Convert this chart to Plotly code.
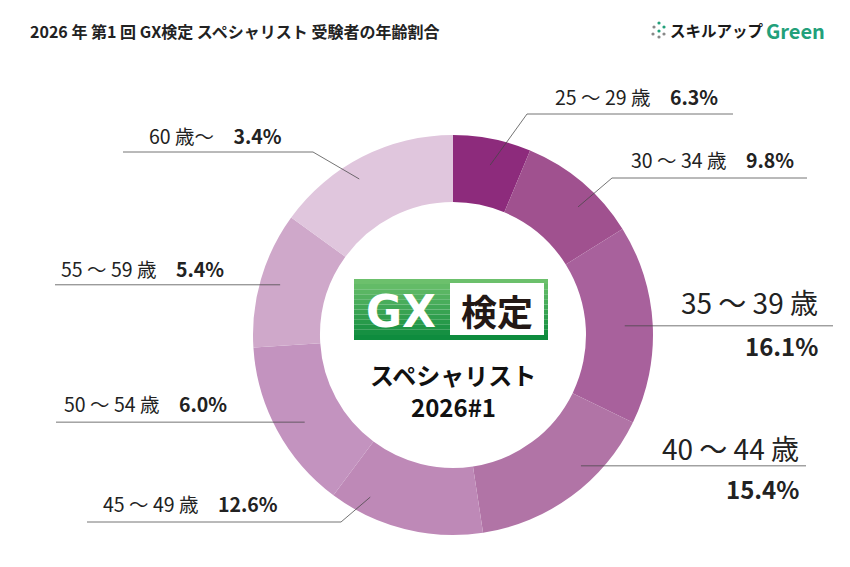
import math
import plotly.graph_objects as go

# data
age_groups = ["25～29歳", "30～34歳", "35～39歳", "40～44歳",
              "45～49歳", "50～54歳", "55～59歳", "60歳～"]
label_text = ["25 〜 29 歳", "30 〜 34 歳", "35 〜 39 歳", "40 〜 44 歳",
              "45 〜 49 歳", "50 〜 54 歳", "55 〜 59 歳", "60 歳〜"]
printed_pct = [6.3, 9.8, 16.1, 15.4, 12.6, 6.0, 5.4, 3.4]
# slice sizes as drawn in the ring (the last three are drawn larger than printed)
slice_share = [6.3, 9.8, 16.1, 15.4, 12.6, 13.8, 11.0, 15.0]
slice_colors = ["#8D2B7C", "#A0518F", "#A8619C", "#B174A6",
                "#BE89B7", "#C393BF", "#CFA8CA", "#E0C6DD"]

W, H = 850, 567
CX, CY, R = 453, 335, 200
FONT = "Noto Sans CJK JP"


def px(x, y):
    return x / W, 1 - y / H


fig = go.Figure()
x0, y1 = px(CX - R, CY - R)
x1, y0 = px(CX + R, CY + R)
fig.add_trace(go.Pie(
    labels=age_groups, values=slice_share, sort=False, direction="clockwise",
    rotation=0, hole=0.665, marker=dict(colors=slice_colors, line=dict(width=0)),
    textinfo="none", hoverinfo="label+value", domain=dict(x=[x0, x1], y=[y0, y1]),
))

shapes = []
annotations = []


def line(xa, ya, xb, yb, color="rgba(70,70,70,0.75)"):
    a, b = px(xa, ya)
    c, d = px(xb, yb)
    shapes.append(dict(type="line", xref="paper", yref="paper", x0=a, y0=b, x1=c, y1=d,
                       line=dict(color=color, width=1)))


def text(x, y, s, size, anchor="center", color="#222", family=FONT):
    a, b = px(x, y)
    annotations.append(dict(x=a, y=b, xref="paper", yref="paper", text=s, showarrow=False,
                            xanchor=anchor, yanchor="middle",
                            font=dict(family=family, size=size, color=color)))


# leader layout per slice: angle tweak, radius, elbow, line end, text placement
leaders = [
    dict(dt=1, r=174, elbow=(527, 114), end=733, tx=(636, 97)),
    dict(dt=4, r=179, elbow=(612, 178), end=807, tx=(712, 159)),
    dict(dt=0, r=172, elbow=None, end=833, big=(820, 302, 345)),
    dict(dt=-8, r=183, elbow=None, end=806, big=(801, 448, 488)),
    dict(dt=13, r=182, elbow=(341, 522), end=87, tx=(190, 503)),
    dict(dt=-2, r=172, elbow=None, end=56, tx=(145, 403)),
    dict(dt=0, r=180, elbow=None, end=55, tx=(142, 268)),
    dict(dt=-4, r=182, elbow=(313, 152), end=123, tx=(215, 135)),
]

total = sum(slice_share)
cum = 0
for i, v in enumerate(slice_share):
    mid = (cum + v / 2) / total * 360
    cum += v
    L = leaders[i]
    th = math.radians(mid + L["dt"])
    sx = CX + L["r"] * math.sin(th)
    sy = CY - L["r"] * math.cos(th)
    if L["elbow"]:
        ex, ey = L["elbow"]
        line(sx, sy, ex, ey)
        line(ex, ey, L["end"], ey)
    else:
        line(sx, sy, L["end"], sy)
    if "big" in L:
        bx, ty, py = L["big"]
        text(bx, ty, label_text[i], 28, "right")
        text(bx, py, f"<b>{printed_pct[i]:.1f}%</b>", 24, "right")
    else:
        tx, ty = L["tx"]
        text(tx, ty, f"{label_text[i]}　<b>{printed_pct[i]:.1f}%</b>", 19.5)

# center badge: GX検定
steps = 12
gx0, gy0, gx1, gy1 = 354, 279, 548, 340
top_c, bot_c = (108, 192, 108), (14, 140, 62)
for k in range(steps):
    t = k / (steps - 1)
    c = tuple(int(top_c[j] + (bot_c[j] - top_c[j]) * t) for j in range(3))
    ya = gy0 + (gy1 - gy0) * k / steps
    yb = gy0 + (gy1 - gy0) * (k + 1) / steps
    a, b = px(gx0, ya)
    cc, d = px(gx1, yb)
    shapes.append(dict(type="rect", xref="paper", yref="paper", x0=a, y0=d, x1=cc, y1=b,
                       line=dict(width=0), fillcolor="rgb(%d,%d,%d)" % c, layer="above"))
a, b = px(450, 283)
cc, d = px(544, 335)
shapes.append(dict(type="rect", xref="paper", yref="paper", x0=a, y0=d, x1=cc, y1=b,
                   line=dict(width=0), fillcolor="white", layer="above"))
text(401, 311, "<b>GX</b>", 44, color="white", family="DejaVu Sans")
text(497, 310, "<b>検定</b>", 36, color="#231815")
text(CX, 374, "<b>スペシャリスト</b>", 24, color="#111")
text(CX, 406, "<b>2026#1</b>", 24, color="#111")

# title and brand mark
text(28, 31, "<b>2026 年 第1 回 GX検定 スペシャリスト 受験者の年齢割合</b>", 16, "left")
text(766, 30, "<b>スキルアップ</b>", 15.5, "right", color="#1a1a1a")
text(827, 30, "<b>Green</b>", 20, "right", color="#22A07A")
dots = [(659, 23, "#22A07A"), (664, 27, "#22A07A"), (654, 27, "#888"), (659, 31, "#22A07A"),
        (653, 34, "#888"), (664, 34, "#888"), (659, 37, "#888")]
for dx, dy, col in dots:
    a, b = px(dx - 1.6, dy - 1.6)
    cc, d = px(dx + 1.6, dy + 1.6)
    shapes.append(dict(type="circle", xref="paper", yref="paper", x0=a, y0=d, x1=cc, y1=b,
                       line=dict(width=0), fillcolor=col))

fig.update_layout(
    width=W, height=H, margin=dict(l=0, r=0, t=0, b=0),
    paper_bgcolor="white", plot_bgcolor="white", showlegend=False,
    shapes=shapes, annotations=annotations,
    font=dict(family=FONT),
)

# drop the browser's default body margin so the figure sits at the page corner
fig.write_html("out.html", config={"displayModeBar": False},
               post_script="document.body.style.margin='0px';")
